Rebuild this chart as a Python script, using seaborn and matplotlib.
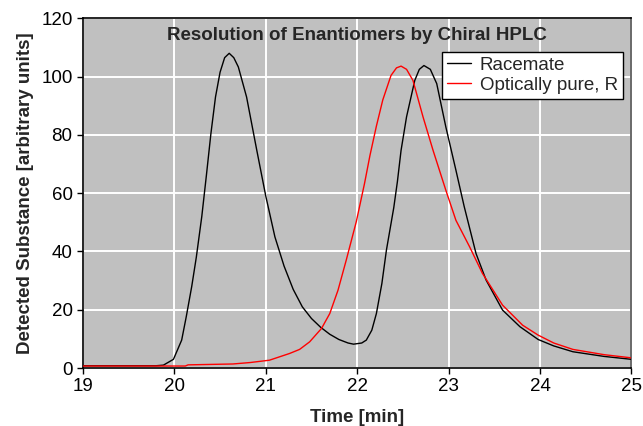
import pandas as pd
import seaborn as sns
import matplotlib.pyplot as plt

# Racemate trace (time in min, signal)
race_t = [19.0, 19.5, 19.8, 19.88, 19.99, 20.08, 20.13, 20.19, 20.24, 20.30, 20.35, 20.40,
          20.45, 20.50, 20.55, 20.60, 20.65, 20.70, 20.79, 20.90, 21.0, 21.1, 21.2, 21.3,
          21.4, 21.5, 21.6, 21.7, 21.8, 21.9, 21.96, 22.05, 22.10, 22.16, 22.21, 22.27,
          22.32, 22.40, 22.44, 22.48, 22.54, 22.63, 22.68, 22.73, 22.80, 22.87, 22.97, 23.08,
          23.17, 23.30, 23.41, 23.59, 23.78, 23.98, 24.15, 24.36, 24.70, 25.0]
race_y = [0.8, 0.8, 0.8, 1.0, 3.0, 9.6, 17.6, 28.0, 38.0, 52.0, 66.0, 80.5,
          93.0, 101.5, 106.5, 108.0, 106.5, 103.3, 93.0, 75.0, 59.0, 45.0, 35.0, 27.0,
          21.0, 17.0, 14.0, 11.6, 9.8, 8.6, 8.2, 8.6, 9.6, 13.0, 18.7, 29.0,
          40.5, 55.0, 64.0, 74.7, 86.2, 98.7, 102.5, 103.8, 102.5, 97.6, 82.7, 67.9,
          55.5, 39.3, 30.2, 19.9, 14.2, 9.8, 7.6, 5.6, 4.0, 3.0]

# Optically pure R trace
pure_t = [19.0, 20.12, 20.15, 20.64, 20.83, 21.04, 21.26, 21.37, 21.48, 21.61, 21.70, 21.79,
          21.88, 21.99, 22.08, 22.14, 22.21, 22.28, 22.37, 22.43, 22.48, 22.54, 22.61, 22.72,
          22.83, 22.97, 23.08, 23.23, 23.37, 23.59, 23.81, 23.98, 24.15, 24.36, 24.70, 25.0]
pure_y = [0.7, 0.7, 1.1, 1.4, 1.9, 2.7, 5.0, 6.4, 9.0, 13.6, 18.7, 26.7,
          37.0, 50.2, 63.3, 73.0, 83.0, 92.0, 100.4, 103.0, 103.6, 102.5, 98.7, 86.2,
          74.7, 61.0, 50.7, 41.6, 32.5, 21.6, 14.7, 11.3, 8.6, 6.4, 4.6, 3.5]

df = pd.concat([
    pd.DataFrame({'time': race_t, 'signal': race_y, 'sample': 'Racemate'}),
    pd.DataFrame({'time': pure_t, 'signal': pure_y, 'sample': 'Optically pure, R'}),
])

sns.set_style('ticks')
plt.rcParams['font.family'] = ['Liberation Sans', 'DejaVu Sans']

fig, ax = plt.subplots(figsize=(6.43, 4.26), dpi=100)
fig.subplots_adjust(left=0.129, right=0.982, top=0.957, bottom=0.136)
ax.set_facecolor('#c0c0c0')

sns.lineplot(data=df, x='time', y='signal', hue='sample', sort=False,
             palette={'Racemate': 'black', 'Optically pure, R': 'red'},
             linewidth=1.0, ax=ax, zorder=3)

ax.set_xlim(19, 25)
ax.set_ylim(0, 120)
ax.set_xticks(range(19, 26))
ax.set_yticks(range(0, 121, 20))
ax.grid(True, color='white', linewidth=1.4, zorder=0)
ax.set_axisbelow(True)
ax.tick_params(direction='out', length=4, width=1, labelsize=13.5, colors='black')

for side in ['left', 'bottom', 'top']:
    ax.spines[side].set_color('black')
    ax.spines[side].set_linewidth(1.2)
ax.spines['right'].set_color('#505050')
ax.spines['right'].set_linewidth(1.2)

ax.set_xlabel('Time [min]', fontsize=13.5, fontweight='bold', labelpad=10)
ax.set_ylabel('Detected Substance [arbitrary units]', fontsize=13.5, fontweight='bold', labelpad=5)
ax.text(0.5, 0.951, 'Resolution of Enantiomers by Chiral HPLC', transform=ax.transAxes,
        ha='center', va='center', fontsize=13.5, fontweight='bold')

leg = ax.legend(loc='upper right', bbox_to_anchor=(0.984, 0.903), fontsize=13.5,
                frameon=True, fancybox=False, framealpha=1, edgecolor='black',
                handlelength=1.3, handletextpad=0.45, borderpad=0.25, labelspacing=0.15,
                borderaxespad=0)
leg.get_frame().set_linewidth(1.0)
leg.set_title(None)

fig.savefig('out.png', dpi=100)
